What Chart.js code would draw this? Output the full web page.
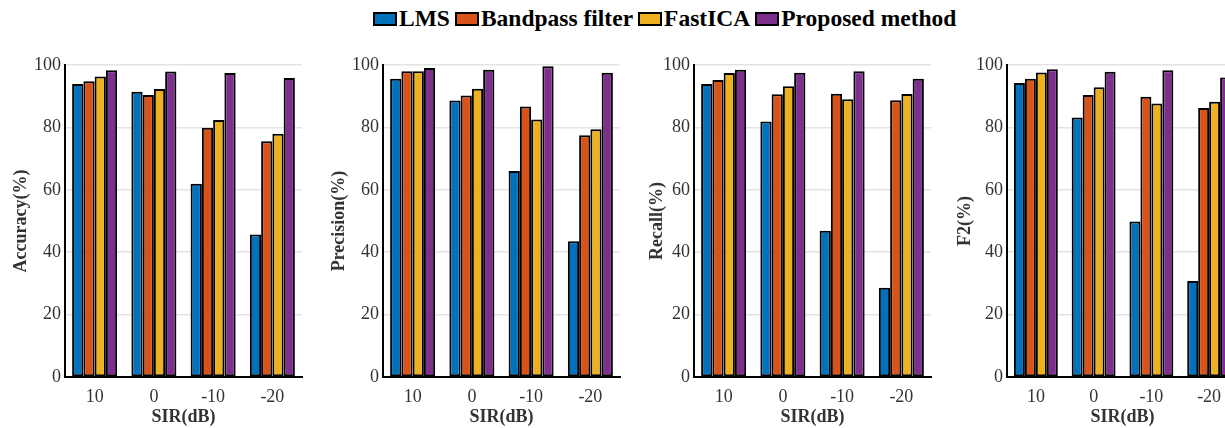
<!DOCTYPE html>
<html>
<head>
<meta charset="utf-8">
<script src="https://cdn.jsdelivr.net/npm/chart.js@4"></script>
<style>
  html, body { margin: 0; padding: 0; background: #fff; }
  body { width: 1225px; height: 428px; position: relative; overflow: hidden; }
  .panel { position: absolute; top: 40px; height: 388px; }
  #legend { position: absolute; left: 373px; top: 5px; display: flex; align-items: center;
            font: bold 23.5px "Liberation Serif", "Times New Roman", serif; color: #000; white-space: nowrap; }
  #legend .item { display: flex; align-items: center; margin-right: 5px; }
  #legend .box { width: 20px; height: 10px; border: 2px solid #000; margin-right: 2px; }
</style>
</head>
<body>
<div id="legend"></div>
<div class="panel" id="p0" style="left:0px;width:310px"><canvas id="c0"></canvas></div>
<div class="panel" id="p1" style="left:318px;width:310px"><canvas id="c1"></canvas></div>
<div class="panel" id="p2" style="left:629px;width:310px"><canvas id="c2"></canvas></div>
<div class="panel" id="p3" style="left:942px;width:304px"><canvas id="c3"></canvas></div>
<script>
// SIR levels on the x axis
const categories = ['10', '0', '-10', '-20'];
const methods = ['LMS', 'Bandpass filter', 'FastICA', 'Proposed method'];
const colors = ['#0072BD', '#D95319', '#EDB120', '#7E2F8E'];
const yTicks = [0, 20, 40, 60, 80, 100];

// one row per method, one value per SIR level
const accuracy = [
    [93.9, 91.4, 61.9, 45.7],
    [94.8, 90.4, 79.9, 75.6],
    [96.3, 92.3, 82.4, 78.0],
    [98.3, 97.9, 97.4, 95.8]
];
const precision = [
    [95.6, 88.6, 66.0, 43.5],
    [98.0, 90.2, 86.7, 77.5],
    [98.0, 92.4, 82.5, 79.4],
    [99.0, 98.5, 99.6, 97.5]
];
const recall = [
    [93.9, 81.9, 46.9, 28.6],
    [95.2, 90.6, 90.8, 88.7],
    [97.4, 93.2, 89.0, 90.7],
    [98.5, 97.5, 98.0, 95.6]
];
const f2 = [
    [94.2, 83.2, 49.8, 30.8],
    [95.6, 90.4, 89.8, 86.2],
    [97.6, 92.9, 87.7, 88.2],
    [98.6, 97.8, 98.3, 96.0]
];

const panels = [
    { id: 'c0', title: 'Accuracy(%)', values: accuracy, titleGap: 11 },
    { id: 'c1', title: 'Precision(%)', values: precision, titleGap: 11 },
    { id: 'c2', title: 'Recall(%)', values: recall, titleGap: 18 },
    { id: 'c3', title: 'F2(%)', values: f2, titleGap: 13 }
];

const serif = '"Liberation Serif", "Times New Roman", serif';

// legende commune en haut
const legend = document.getElementById('legend');
methods.forEach(function (m, i) {
    const item = document.createElement('div');
    item.className = 'item';
    const box = document.createElement('span');
    box.className = 'box';
    box.style.background = colors[i];
    item.appendChild(box);
    item.appendChild(document.createTextNode(m));
    legend.appendChild(item);
});

panels.forEach(function (p) {
    const ctx = document.getElementById(p.id).getContext('2d');
    new Chart(ctx, {
        type: 'bar',
        data: {
            labels: categories,
            datasets: methods.map(function (m, i) {
                return {
                    label: m,
                    data: p.values[i],
                    backgroundColor: colors[i],
                    borderColor: '#000',
                    borderWidth: 2,
                    borderSkipped: false,
                    categoryPercentage: 0.76,
                    barPercentage: 1.0
                };
            })
        },
        options: {
            responsive: true,
            maintainAspectRatio: false,
            animation: false,
            layout: { padding: { top: 25, right: 8, left: 0, bottom: 0 } },
            plugins: {
                legend: { display: false },
                tooltip: { enabled: false }
            },
            scales: {
                x: {
                    grid: { display: false, drawTicks: false },
                    border: { color: '#000', width: 2 },
                    ticks: {
                        color: '#333',
                        padding: 9,
                        font: { family: serif, size: 18 }
                    },
                    title: {
                        display: true,
                        text: 'SIR(dB)',
                        color: '#333',
                        padding: { top: 0, bottom: 0 },
                        font: { family: serif, size: 18, weight: 'bold' }
                    },
                    afterFit: function (scale) { scale.height = 51; }
                },
                y: {
                    min: 0,
                    max: 100,
                    afterBuildTicks: function (scale) {
                        scale.ticks = yTicks.map(function (v) { return { value: v }; });
                    },
                    grid: { color: '#e3e3e3', lineWidth: 1.5, drawTicks: false },
                    border: { color: '#000', width: 2 },
                    ticks: {
                        color: '#333',
                        padding: 4,
                        font: { family: serif, size: 18 }
                    },
                    title: {
                        display: true,
                        text: p.title,
                        color: '#333',
                        padding: { top: p.titleGap, bottom: 0 },
                        font: { family: serif, size: 18, weight: 'bold' }
                    },
                    afterFit: function (scale) { scale.width = 65; }
                }
            }
        }
    });
});
</script>
</body>
</html>
